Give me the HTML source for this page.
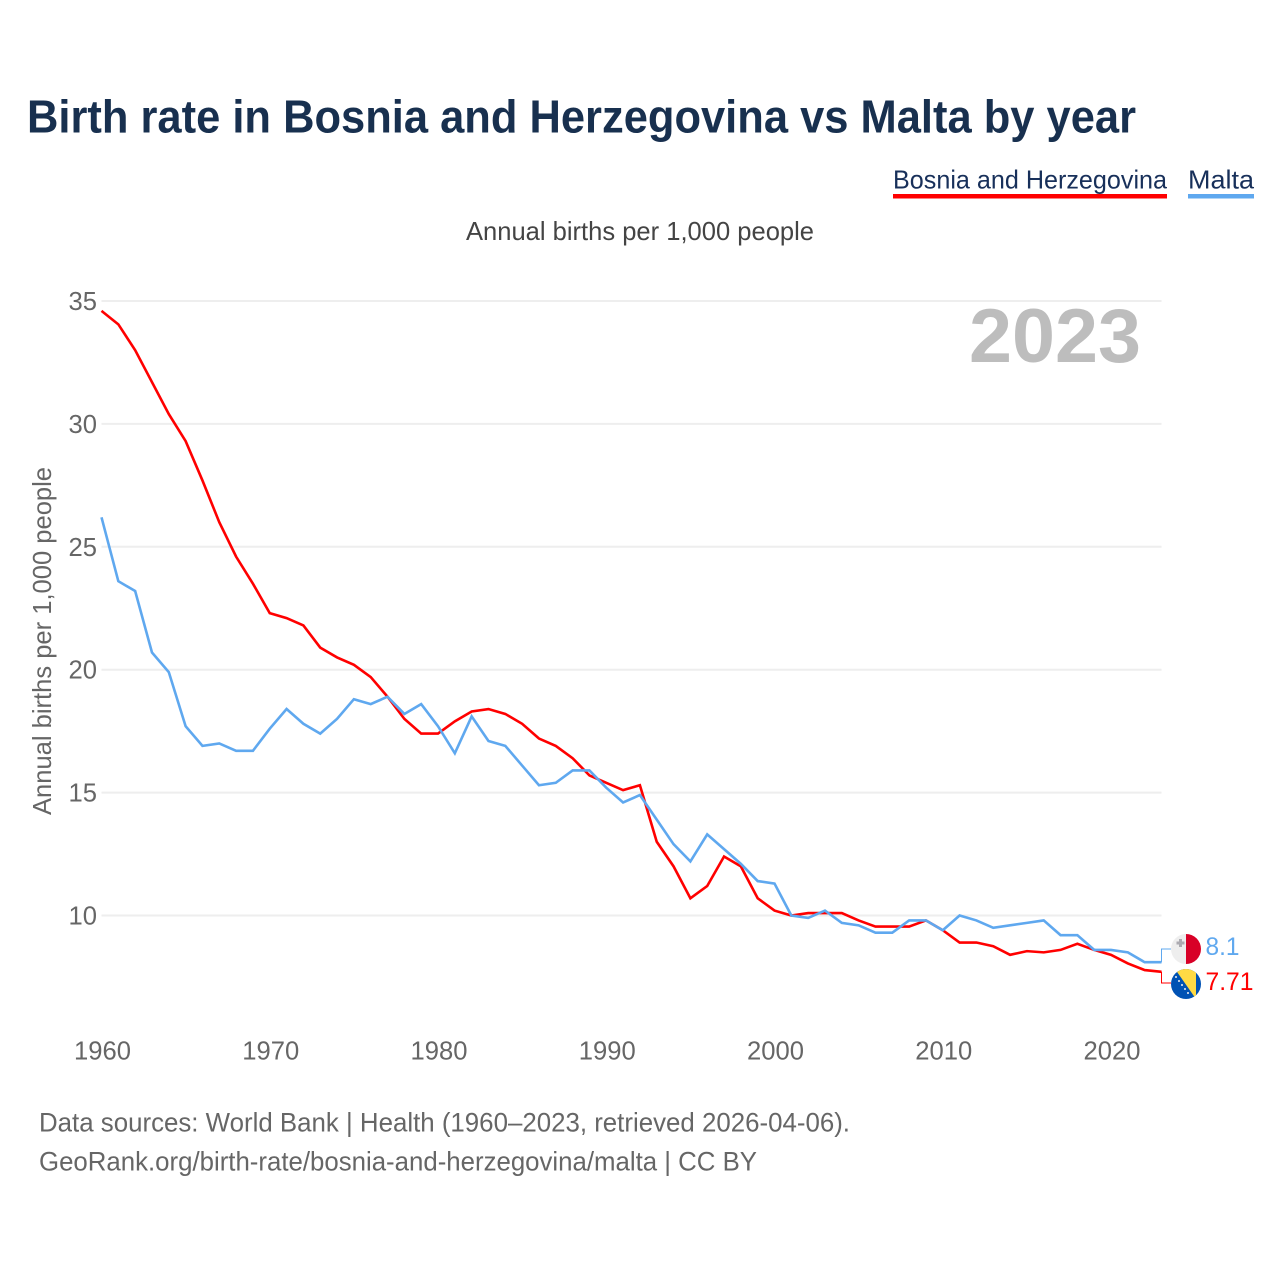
<!DOCTYPE html>
<html lang="en">
<head>
<meta charset="utf-8">
<title>Birth rate in Bosnia and Herzegovina vs Malta by year</title>
<style>
html,body{margin:0;padding:0;background:#fff;width:1280px;height:1280px;overflow:hidden}
svg{display:block}
text{font-family:"Liberation Sans",sans-serif}
</style>
</head>
<body>
<svg id="chart" xmlns="http://www.w3.org/2000/svg" width="1280" height="1280" viewBox="0 0 1280 1280">
  <defs>
    <clipPath id="clip-mt"><circle cx="1186" cy="949" r="15"/></clipPath>
    <clipPath id="clip-ba"><circle cx="1186" cy="984" r="15"/></clipPath>
  </defs>
  <rect x="0" y="0" width="1280" height="1280" fill="#fff"/>
  <text x="27" y="132.500" font-size="46" font-weight="700" fill="#18304f" textLength="1109" lengthAdjust="spacingAndGlyphs">Birth rate in Bosnia and Herzegovina vs Malta by year</text>

  <g>
    <text x="893" y="188.500" font-size="26" fill="#18305a" textLength="274" lengthAdjust="spacingAndGlyphs">Bosnia and Herzegovina</text>
    <rect x="893" y="194" width="274" height="4.500" fill="#ff0000"/>
  </g>
  <g>
    <text x="1188" y="188.500" font-size="26" fill="#18305a" textLength="66" lengthAdjust="spacingAndGlyphs">Malta</text>
    <rect x="1188" y="194" width="66" height="4.500" fill="#5fa8ef"/>
  </g>

  <text x="466" y="240" font-size="26" fill="#444" textLength="348" lengthAdjust="spacingAndGlyphs">Annual births per 1,000 people</text>
  <text transform="translate(51,815) rotate(-90)" font-size="26" fill="#666" textLength="348" lengthAdjust="spacingAndGlyphs">Annual births per 1,000 people</text>

  <g id="grid"></g>
  <g id="yticks"></g>
  <g id="xticks"></g>

  <text x="969" y="362" font-size="76" font-weight="700" fill="#bdbdbd" textLength="172" lengthAdjust="spacingAndGlyphs">2023</text>

  <g id="series"></g>

  <g clip-path="url(#clip-mt)">
    <rect x="1171" y="934" width="15" height="30" fill="#eeeeee"/>
    <rect x="1186" y="934" width="15" height="30" fill="#d80027"/>
    <path d="M1179 939h3v2.500h2.500v3h-2.500v2.500h-3v-2.500h-2.500v-3h2.500z" fill="#acabb1"/>
  </g>
  <g clip-path="url(#clip-ba)">
    <rect x="1171" y="969" width="30" height="30" fill="#0052b4"/>
    <path d="M1175 969h21v30z" fill="#ffda44"/>
    <g fill="#f0f0f0">
      <circle cx="1176" cy="977" r="1"/><circle cx="1179" cy="981" r="1"/><circle cx="1182" cy="985" r="1"/><circle cx="1185" cy="989" r="1"/><circle cx="1188" cy="993" r="1"/>
    </g>
  </g>
  <text x="1205.500" y="955" font-size="25" fill="#5fa8ef" textLength="34" lengthAdjust="spacingAndGlyphs">8.1</text>
  <text x="1205.500" y="990" font-size="25" fill="#ff0000" textLength="48" lengthAdjust="spacingAndGlyphs">7.71</text>

  <text x="39" y="1131.500" font-size="27" fill="#666" textLength="811" lengthAdjust="spacingAndGlyphs">Data sources: World Bank | Health (1960–2023, retrieved 2026-04-06).</text>
  <text x="39" y="1170.500" font-size="27" fill="#666" textLength="718" lengthAdjust="spacingAndGlyphs">GeoRank.org/birth-rate/bosnia-and-herzegovina/malta | CC BY</text>
</svg>
<script>
const startYear = 1960;
const xTickYears = [1960, 1970, 1980, 1990, 2000, 2010, 2020];
const yTickValues = [10, 15, 20, 25, 30, 35];
const bosniaValues = [34.6, 34.05, 33.0, 31.7, 30.4, 29.3, 27.7, 26.0, 24.6, 23.5, 22.3, 22.1, 21.8, 20.9, 20.5, 20.2, 19.7, 18.9, 18.0, 17.4, 17.4, 17.9, 18.3, 18.4, 18.2, 17.8, 17.2, 16.9, 16.4, 15.7, 15.4, 15.1, 15.3, 13.0, 12.0, 10.7, 11.2, 12.4, 12.0, 10.7, 10.2, 10.0, 10.1, 10.1, 10.1, 9.8, 9.55, 9.55, 9.55, 9.8, 9.4, 8.9, 8.9, 8.75, 8.4, 8.55, 8.5, 8.6, 8.85, 8.6, 8.4, 8.05, 7.78, 7.71];
const maltaValues = [26.2, 23.6, 23.2, 20.7, 19.9, 17.7, 16.9, 17.0, 16.7, 16.7, 17.6, 18.4, 17.8, 17.4, 18.0, 18.8, 18.6, 18.9, 18.2, 18.6, 17.7, 16.6, 18.1, 17.1, 16.9, 16.1, 15.3, 15.4, 15.9, 15.9, 15.2, 14.6, 14.9, 13.9, 12.9, 12.2, 13.3, 12.7, 12.1, 11.4, 11.3, 10.0, 9.9, 10.2, 9.7, 9.6, 9.3, 9.3, 9.8, 9.8, 9.4, 10.0, 9.8, 9.5, 9.6, 9.7, 9.8, 9.2, 9.2, 8.6, 8.6, 8.5, 8.1, 8.1];

const NS = 'http://www.w3.org/2000/svg';
function xScale(year) { return 101.5 + (year - 1960) * (1161.5 - 101.5) / 63; }
function yScale(value) { return 301 + (35 - value) * (915.5 - 301) / 25; }
function linePath(values) {
  return values.map((v, i) => (i ? 'L' : 'M') + xScale(startYear + i).toFixed(2) + ' ' + yScale(v).toFixed(2)).join('');
}

const grid = document.getElementById('grid');
const yticks = document.getElementById('yticks');
const xticks = document.getElementById('xticks');
const series = document.getElementById('series');

yTickValues.forEach(v => {
  const ln = document.createElementNS(NS, 'line');
  
  
  ln.setAttribute('x1', xScale(1960));
  ln.setAttribute('x2', xScale(2023));
  ln.setAttribute('y1', yScale(v));
  ln.setAttribute('y2', yScale(v));
  ln.setAttribute('stroke', '#eeeeee');
  ln.setAttribute('stroke-width', '2');
  grid.appendChild(ln);

  const t = document.createElementNS(NS, 'text');
  
  
  t.setAttribute('x', 97);
  t.setAttribute('y', yScale(v) + 9);
  t.setAttribute('text-anchor', 'end');
  t.setAttribute('font-size', '25.6');
  t.setAttribute('fill', '#666');
  t.textContent = v;
  yticks.appendChild(t);
});

xTickYears.forEach(year => {
  const t = document.createElementNS(NS, 'text');
  
  
  t.setAttribute('x', xScale(year) + 1);
  t.setAttribute('y', 1059.5);
  t.setAttribute('text-anchor', 'middle');
  t.setAttribute('font-size', '25.6');
  t.setAttribute('fill', '#666');
  t.textContent = year;
  xticks.appendChild(t);
});

const bosniaLine = document.createElementNS(NS, 'path');


bosniaLine.setAttribute('d', linePath(bosniaValues));
bosniaLine.setAttribute('fill', 'none');
bosniaLine.setAttribute('stroke', '#ff0000');
bosniaLine.setAttribute('stroke-width', '2.6');
series.appendChild(bosniaLine);

const maltaLine = document.createElementNS(NS, 'path');


maltaLine.setAttribute('d', linePath(maltaValues));
maltaLine.setAttribute('fill', 'none');
maltaLine.setAttribute('stroke', '#5fa8ef');
maltaLine.setAttribute('stroke-width', '2.6');
series.appendChild(maltaLine);

const endX = xScale(2023);
const bosniaConnector = document.createElementNS(NS, 'path');


bosniaConnector.setAttribute('d', 'M' + endX + ' ' + yScale(bosniaValues[bosniaValues.length - 1]) + 'V983H1171');
bosniaConnector.setAttribute('fill', 'none');
bosniaConnector.setAttribute('stroke', '#ff0000');
bosniaConnector.setAttribute('stroke-width', '1');
series.appendChild(bosniaConnector);

const maltaConnector = document.createElementNS(NS, 'path');


maltaConnector.setAttribute('d', 'M' + endX + ' ' + yScale(maltaValues[maltaValues.length - 1]) + 'V949H1171');
maltaConnector.setAttribute('fill', 'none');
maltaConnector.setAttribute('stroke', '#5fa8ef');
maltaConnector.setAttribute('stroke-width', '1');
series.appendChild(maltaConnector);
</script>
</body>
</html>
